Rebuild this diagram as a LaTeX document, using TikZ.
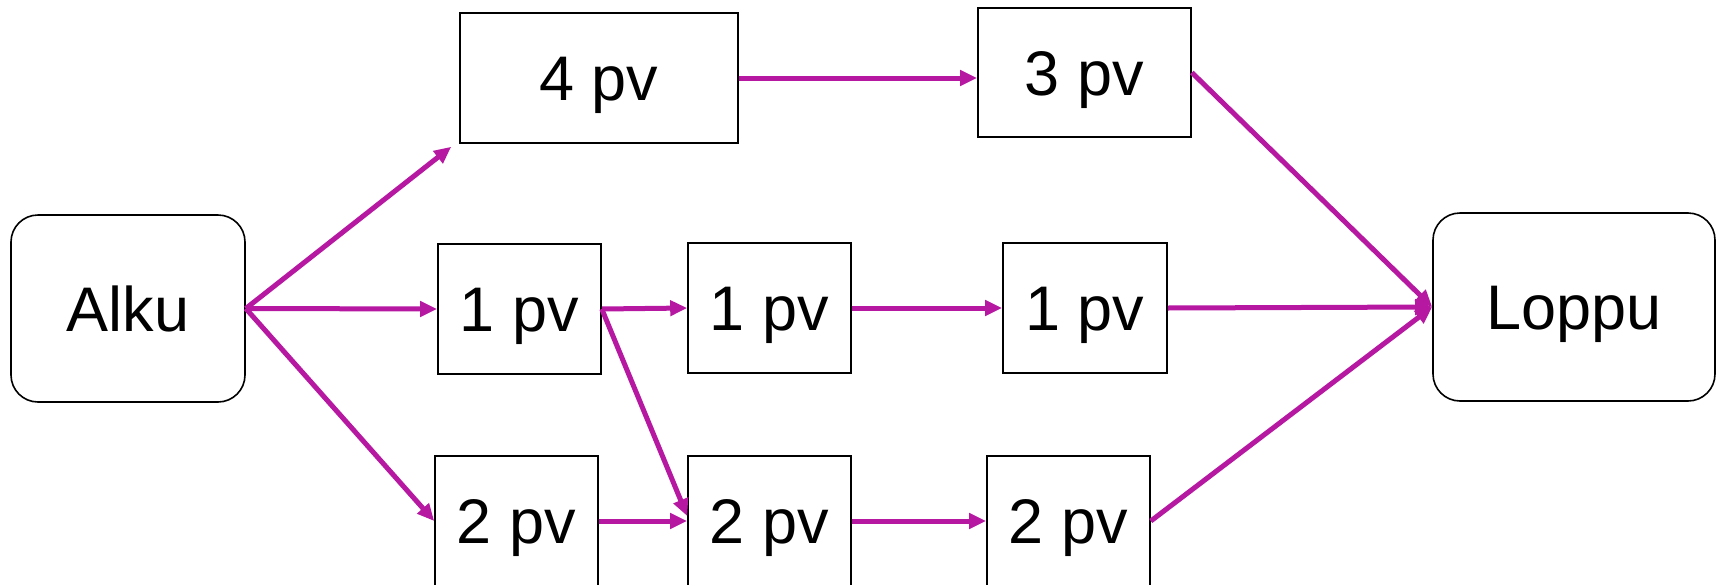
\documentclass[tikz,border=0pt]{standalone}
\usepackage{fontspec}
\setmainfont{Liberation Sans}
\usetikzlibrary{arrows.meta,calc}
\definecolor{flow}{RGB}{182,24,162}
\tikzset{
  label text/.style={font=\fontsize{63}{70}\selectfont, text height=45pt, text depth=0pt},
  task/.style={draw=black, line width=1.6pt, rectangle, minimum height=130pt,
    inner sep=0pt, label text},
  terminal/.style={draw=black, line width=1.6pt, rectangle, rounded corners=27pt,
    minimum width=234pt, minimum height=187pt, inner sep=0pt, label text},
  link/.style={draw=flow, line width=5pt,
    -{Triangle[length=17pt,width=15pt]}}
}
\begin{document}
\begin{tikzpicture}[x=1pt,y=-1pt]
\useasboundingbox (0,0) rectangle (1717,584);
\clip (0,0) rectangle (1717,584);
\fill[white] (0,0) rectangle (1717,584);

% start and end
\node[terminal] (alku) at (128,308.5) {Alku};
\node[terminal, minimum width=282pt, minimum height=188pt] (loppu) at (1574,307) {Loppu};

% top path
\node[task, minimum width=278pt] (a4) at (599,78) {4 pv};
\node[task, minimum width=213pt, minimum height=129pt] (a3) at (1084.5,72.5) {3 pv};

% middle path
\node[task, minimum width=163pt] (b1) at (519.5,309) {1 pv};
\node[task, minimum width=163pt] (b2) at (769.5,308) {1 pv};
\node[task, minimum width=164pt] (b3) at (1085,308) {1 pv};

% bottom path
\node[task, minimum width=163pt] (c1) at (516.5,521) {2 pv};
\node[task, minimum width=163pt] (c2) at (769.5,521) {2 pv};
\node[task, minimum width=163pt] (c3) at (1068.5,521) {2 pv};

\coordinate (a4in) at ($(a4.south west)+(-8,3)$);
\coordinate (c2in) at ($(c2.west)+(0,-5)$);

% connectors
\draw[link] (alku.east) -- (a4in);
\draw[link] (alku.east) -- (b1.west);
\draw[link] (alku.east) -- (c1.west);
\draw[link] (a4.east) -- (a4.east -| a3.west);
\draw[link] (a3.east) -- (loppu.west);
\draw[link] (b1.east) -- (b2.west);
\draw[link] (b1.east) -- (c2in);
\draw[link] (c1.east) -- (c1.east -| c2.west);
\draw[link] (b2.east) -- (b2.east -| b3.west);
\draw[link] (b3.east) -- (loppu.west);
\draw[link] (c2.east) -- (c2.east -| c3.west);
\draw[link] (c3.east) -- (loppu.west);
\end{tikzpicture}
\end{document}
